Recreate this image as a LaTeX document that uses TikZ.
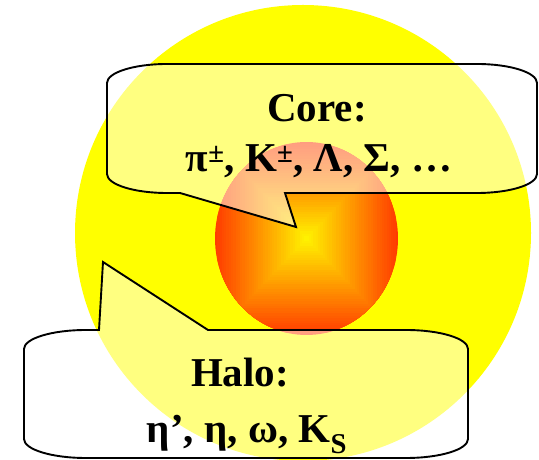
\documentclass[tikz,border=0pt]{standalone}
\usepackage{fontspec}
\setmainfont{Liberation Serif}
\usepackage{tikz}
\definecolor{halo}{RGB}{255,255,0}
\definecolor{coreyellow}{RGB}{255,245,0}
\definecolor{corered}{RGB}{255,60,0}

\begin{document}
\begin{tikzpicture}[x=1bp,y=1bp,
  bubble/.style={draw=black,line width=1.9bp,line join=miter,
    fill=white,fill opacity=0.5},
  label/.style={anchor=base,inner sep=0pt,
    font=\fontsize{41bp}{48bp}\selectfont\bfseries}
]
\useasboundingbox (0,0) rectangle (539,460);
% halo
\fill[halo] (303,227) circle (228);
% core, graded from the centre in rectangular bands
\begin{scope}
  \clip (306.5,221.5) ellipse [x radius=91.5,y radius=96.5];
  \foreach \i in {40,...,1}{
    \pgfmathtruncatemacro\p{100*\i/40}
    \fill[corered!\p!coreyellow] (306.5-91.5*\i/40,221.5-96.5*\i/40)
      rectangle (306.5+91.5*\i/40,221.5+96.5*\i/40);
  }
\end{scope}
% core callout
\draw[bubble] (167,396) -- (477,396)
  arc[start angle=90,end angle=0,x radius=60,y radius=19] -- (537,286)
  arc[start angle=0,end angle=-90,x radius=60,y radius=19] -- (285,267)
  -- (296,233) -- (180,267) -- (167,267)
  arc[start angle=270,end angle=180,x radius=60,y radius=19] -- (107,377)
  arc[start angle=180,end angle=90,x radius=60,y radius=19] -- cycle;
% halo callout
\draw[bubble] (99,130) -- (103,198) -- (208,130) -- (406,130)
  arc[start angle=90,end angle=0,x radius=62,y radius=19] -- (468,21)
  arc[start angle=0,end angle=-90,x radius=62,y radius=19] -- (86,2)
  arc[start angle=270,end angle=180,x radius=62,y radius=19] -- (24,111)
  arc[start angle=180,end angle=90,x radius=62,y radius=19] -- cycle;
\node[label] (coretitle) at (317,338) {Core:};
\node[label] (corelist) at (319,288) {π\textsuperscript{±}, K\textsuperscript{±}, Λ, Σ, …};
\node[label] (halotitle) at (240,73) {Halo:};
\node[label] (halolist) at (247,17) {η’, η, ω, K\textsubscript{S}};
\end{tikzpicture}
\end{document}
